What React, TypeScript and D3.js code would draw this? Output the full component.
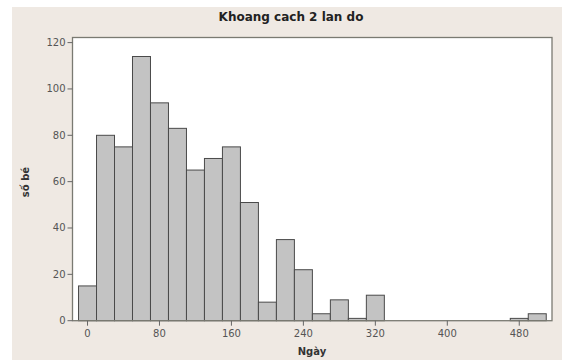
import React from "react";
import * as d3 from "d3";

// Histogram: bin centres (days) and counts
const binCenters = [0, 20, 40, 60, 80, 100, 120, 140, 160, 180, 200, 220, 240, 260, 280, 300, 320, 480, 500];
const counts = [15, 80, 75, 114, 94, 83, 65, 70, 75, 51, 8, 35, 22, 3, 9, 1, 11, 1, 3];
const binWidth = 20;
const xTicks = [0, 80, 160, 240, 320, 400, 480];
const yTicks = [0, 20, 40, 60, 80, 100, 120];
const title = "Khoang cach 2 lan do";
const xLabel = "Ngày";
const yLabel = "số bé";

const W = 562;
const H = 360;
const plot = { left: 72.5, right: 552, top: 37.5, bottom: 320.7 };

export default function App() {
  const x = d3.scaleLinear().domain([-16.7, 516.4]).range([plot.left, plot.right]);
  const y = d3.scaleLinear().domain([0, 122.2]).range([plot.bottom, plot.top]);
  const font = "'DejaVu Sans', Verdana, sans-serif";

  return (
    <svg width={W} height={H} style={{ position: "absolute", left: 0, top: 0 }} fontFamily={font}>
      <rect x={0} y={0} width={W} height={H} fill="#ffffff" />
      <rect x={12} y={7} width={W - 12} height={H - 7} fill="#efe9e3" />
      <rect
        x={plot.left}
        y={plot.top}
        width={plot.right - plot.left}
        height={plot.bottom - plot.top}
        fill="#ffffff"
      />
      {binCenters.map((c, i) => (
        <rect
          key={i}
          x={x(c - binWidth / 2)}
          y={y(counts[i])}
          width={x(c + binWidth / 2) - x(c - binWidth / 2)}
          height={y(0) - y(counts[i])}
          fill="#c3c3c3"
          stroke="#4a4a4a"
          strokeWidth={1}
        />
      ))}
      <rect
        x={plot.left}
        y={plot.top}
        width={plot.right - plot.left}
        height={plot.bottom - plot.top}
        fill="none"
        stroke="#7a7a72"
        strokeWidth={1.3}
      />
      {yTicks.map((t) => (
        <g key={t}>
          <line x1={plot.left - 5} x2={plot.left} y1={y(t)} y2={y(t)} stroke="#666" />
          <text x={plot.left - 7} y={y(t)} dy="0.35em" textAnchor="end" fontSize={10} fill="#555">
            {t}
          </text>
        </g>
      ))}
      {xTicks.map((t) => (
        <g key={t}>
          <line x1={x(t)} x2={x(t)} y1={plot.bottom} y2={plot.bottom + 5} stroke="#666" />
          <text x={x(t)} y={plot.bottom + 16} textAnchor="middle" fontSize={10} fill="#555">
            {t}
          </text>
        </g>
      ))}
      <text x={291} y={21} textAnchor="middle" fontSize={12} fontWeight="bold" fill="#222">
        {title}
      </text>
      <text x={312} y={355} textAnchor="middle" fontSize={10} fontWeight="bold" fill="#333">
        {xLabel}
      </text>
      <text
        transform={`translate(29, 182) rotate(-90)`}
        textAnchor="middle"
        fontSize={10}
        fontWeight="bold"
        fill="#333"
      >
        {yLabel}
      </text>
    </svg>
  );
}
